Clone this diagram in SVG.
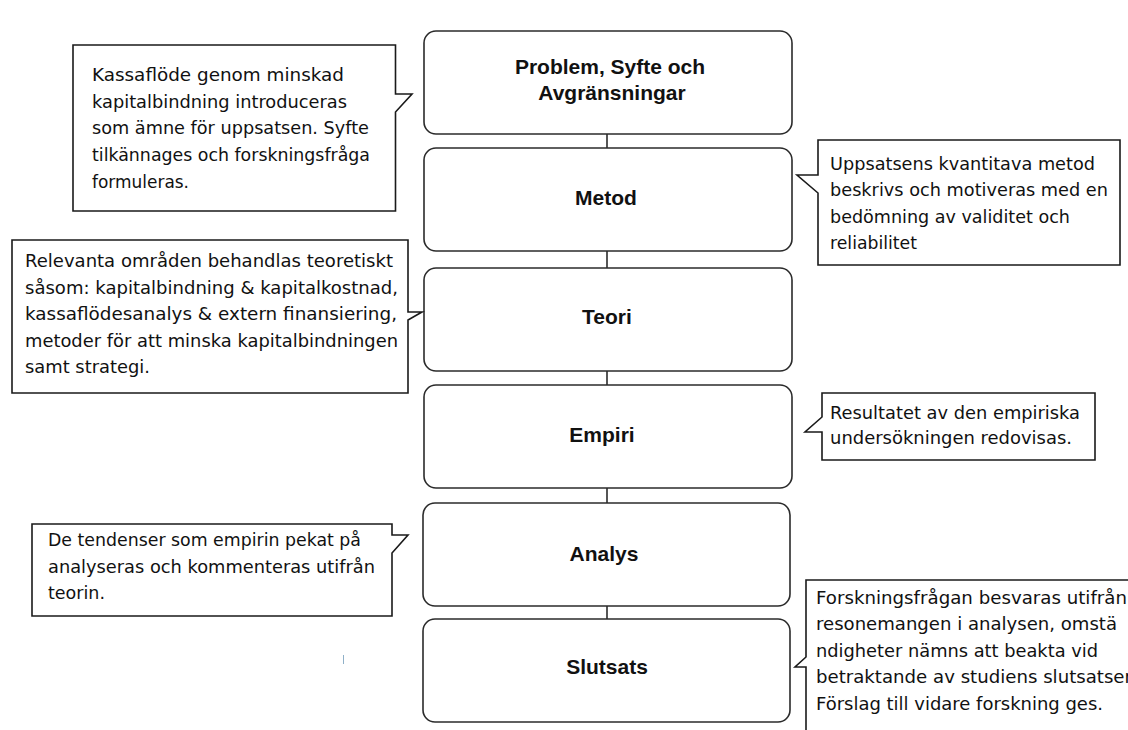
<svg xmlns="http://www.w3.org/2000/svg" width="1128" height="730" viewBox="0 0 1128 730">
<style>
.box{fill:#fff;stroke:#2b2b2b;stroke-width:1.6}
.call{fill:#fff;stroke:#1a1a1a;stroke-width:1.6;stroke-linejoin:miter}
.lbl{font-family:"Liberation Sans",Arial,sans-serif;font-weight:bold;font-size:21px;fill:#111;text-anchor:middle}
.ct{font-family:"DejaVu Sans",sans-serif;font-size:18px;fill:#111}
.con{stroke:#2b2b2b;stroke-width:1.6;fill:none}
</style>
<rect width="1128" height="730" fill="#fff"/>
<g id="connectors">
<line class="con" x1="607" y1="134" x2="607" y2="148"/>
<line class="con" x1="607" y1="251" x2="607" y2="268"/>
<line class="con" x1="607" y1="371" x2="607" y2="385"/>
<line class="con" x1="607" y1="488" x2="607" y2="503"/>
<line class="con" x1="607" y1="606" x2="607" y2="619"/>
</g>
<g id="node-problem">
<rect class="box" x="424" y="31" width="368" height="103" rx="12"/>
<text class="lbl" x="610" y="74">Problem, Syfte och</text>
<text class="lbl" x="612" y="100">Avgränsningar</text>
</g>
<g id="node-metod">
<rect class="box" x="424" y="148" width="368" height="103" rx="12"/>
<text class="lbl" x="606" y="205">Metod</text>
</g>
<g id="node-teori">
<rect class="box" x="424" y="268" width="368" height="103" rx="12"/>
<text class="lbl" x="607" y="324">Teori</text>
</g>
<g id="node-empiri">
<rect class="box" x="424" y="385" width="368" height="103" rx="12"/>
<text class="lbl" x="602" y="442">Empiri</text>
</g>
<g id="node-analys">
<rect class="box" x="423" y="503" width="367" height="103" rx="12"/>
<text class="lbl" x="604" y="561">Analys</text>
</g>
<g id="node-slutsats">
<rect class="box" x="423" y="619" width="367" height="103" rx="12"/>
<text class="lbl" x="607" y="674">Slutsats</text>
</g>
<g id="callout-problem">
<path class="call" d="M73,45 H395.5 V94 H412 L395.5,112 V211 H73 Z"/>
<text class="ct" x="92" y="81" textLength="252" lengthAdjust="spacingAndGlyphs">Kassaflöde genom minskad</text>
<text class="ct" x="92" y="107.5" textLength="255" lengthAdjust="spacingAndGlyphs">kapitalbindning introduceras</text>
<text class="ct" x="92" y="134" textLength="277" lengthAdjust="spacingAndGlyphs">som ämne för uppsatsen. Syfte</text>
<text class="ct" x="92" y="160.5" textLength="278" lengthAdjust="spacingAndGlyphs">tilkännages och forskningsfråga</text>
<text class="ct" x="92" y="187.5" textLength="97" lengthAdjust="spacingAndGlyphs">formuleras.</text>
</g>
<g id="callout-metod">
<path class="call" d="M818,140 H1120 V265 H818 V193 L797,175 H818 Z"/>
<text class="ct" x="830" y="169.5" textLength="265" lengthAdjust="spacingAndGlyphs">Uppsatsens kvantitava metod</text>
<text class="ct" x="830" y="196" textLength="278" lengthAdjust="spacingAndGlyphs">beskrivs och motiveras med en</text>
<text class="ct" x="830" y="222.5" textLength="240" lengthAdjust="spacingAndGlyphs">bedömning av validitet och</text>
<text class="ct" x="830" y="249" textLength="87" lengthAdjust="spacingAndGlyphs">reliabilitet</text>
</g>
<g id="callout-teori">
<path class="call" d="M12,240 H408 V312 H422 L408,320 V393 H12 Z"/>
<text class="ct" x="25" y="267" textLength="368" lengthAdjust="spacingAndGlyphs">Relevanta områden behandlas teoretiskt</text>
<text class="ct" x="25" y="293.5" textLength="373" lengthAdjust="spacingAndGlyphs">såsom: kapitalbindning &amp; kapitalkostnad,</text>
<text class="ct" x="25" y="320" textLength="372" lengthAdjust="spacingAndGlyphs">kassaflödesanalys &amp; extern finansiering,</text>
<text class="ct" x="25" y="346.5" textLength="373" lengthAdjust="spacingAndGlyphs">metoder för att minska kapitalbindningen</text>
<text class="ct" x="25" y="373" textLength="125" lengthAdjust="spacingAndGlyphs">samt strategi.</text>
</g>
<g id="callout-empiri">
<path class="call" d="M822,393 H1095 V460 H822 V432 H805 L822,417 Z"/>
<text class="ct" x="830" y="418.5" textLength="250" lengthAdjust="spacingAndGlyphs">Resultatet av den empiriska</text>
<text class="ct" x="830" y="444" textLength="242" lengthAdjust="spacingAndGlyphs">undersökningen redovisas.</text>
</g>
<g id="callout-analys">
<path class="call" d="M32,524 H392 V535 H408 L392,553 V616 H32 Z"/>
<text class="ct" x="48" y="546" textLength="313" lengthAdjust="spacingAndGlyphs">De tendenser som empirin pekat på</text>
<text class="ct" x="48" y="572.5" textLength="327" lengthAdjust="spacingAndGlyphs">analyseras och kommenteras utifrån</text>
<text class="ct" x="48" y="598.5" textLength="57" lengthAdjust="spacingAndGlyphs">teorin.</text>
</g>
<g id="callout-slutsats">
<path class="call" d="M806,580 H1140 V740 H806 V667 H795 L806,657 Z"/>
<text class="ct" x="816" y="603.5" textLength="311" lengthAdjust="spacingAndGlyphs">Forskningsfrågan besvaras utifrån</text>
<text class="ct" x="816" y="630" textLength="301" lengthAdjust="spacingAndGlyphs">resonemangen i analysen, omstä</text>
<text class="ct" x="816" y="656.5" textLength="282" lengthAdjust="spacingAndGlyphs">ndigheter nämns att beakta vid</text>
<text class="ct" x="816" y="683" textLength="316" lengthAdjust="spacingAndGlyphs">betraktande av studiens slutsatser</text>
<text class="ct" x="816" y="709.5" textLength="287" lengthAdjust="spacingAndGlyphs">Förslag till vidare forskning ges.</text>
</g>
<line x1="343.5" y1="655" x2="343.5" y2="664" stroke="#8fb0c8" stroke-width="1"/>
</svg>
